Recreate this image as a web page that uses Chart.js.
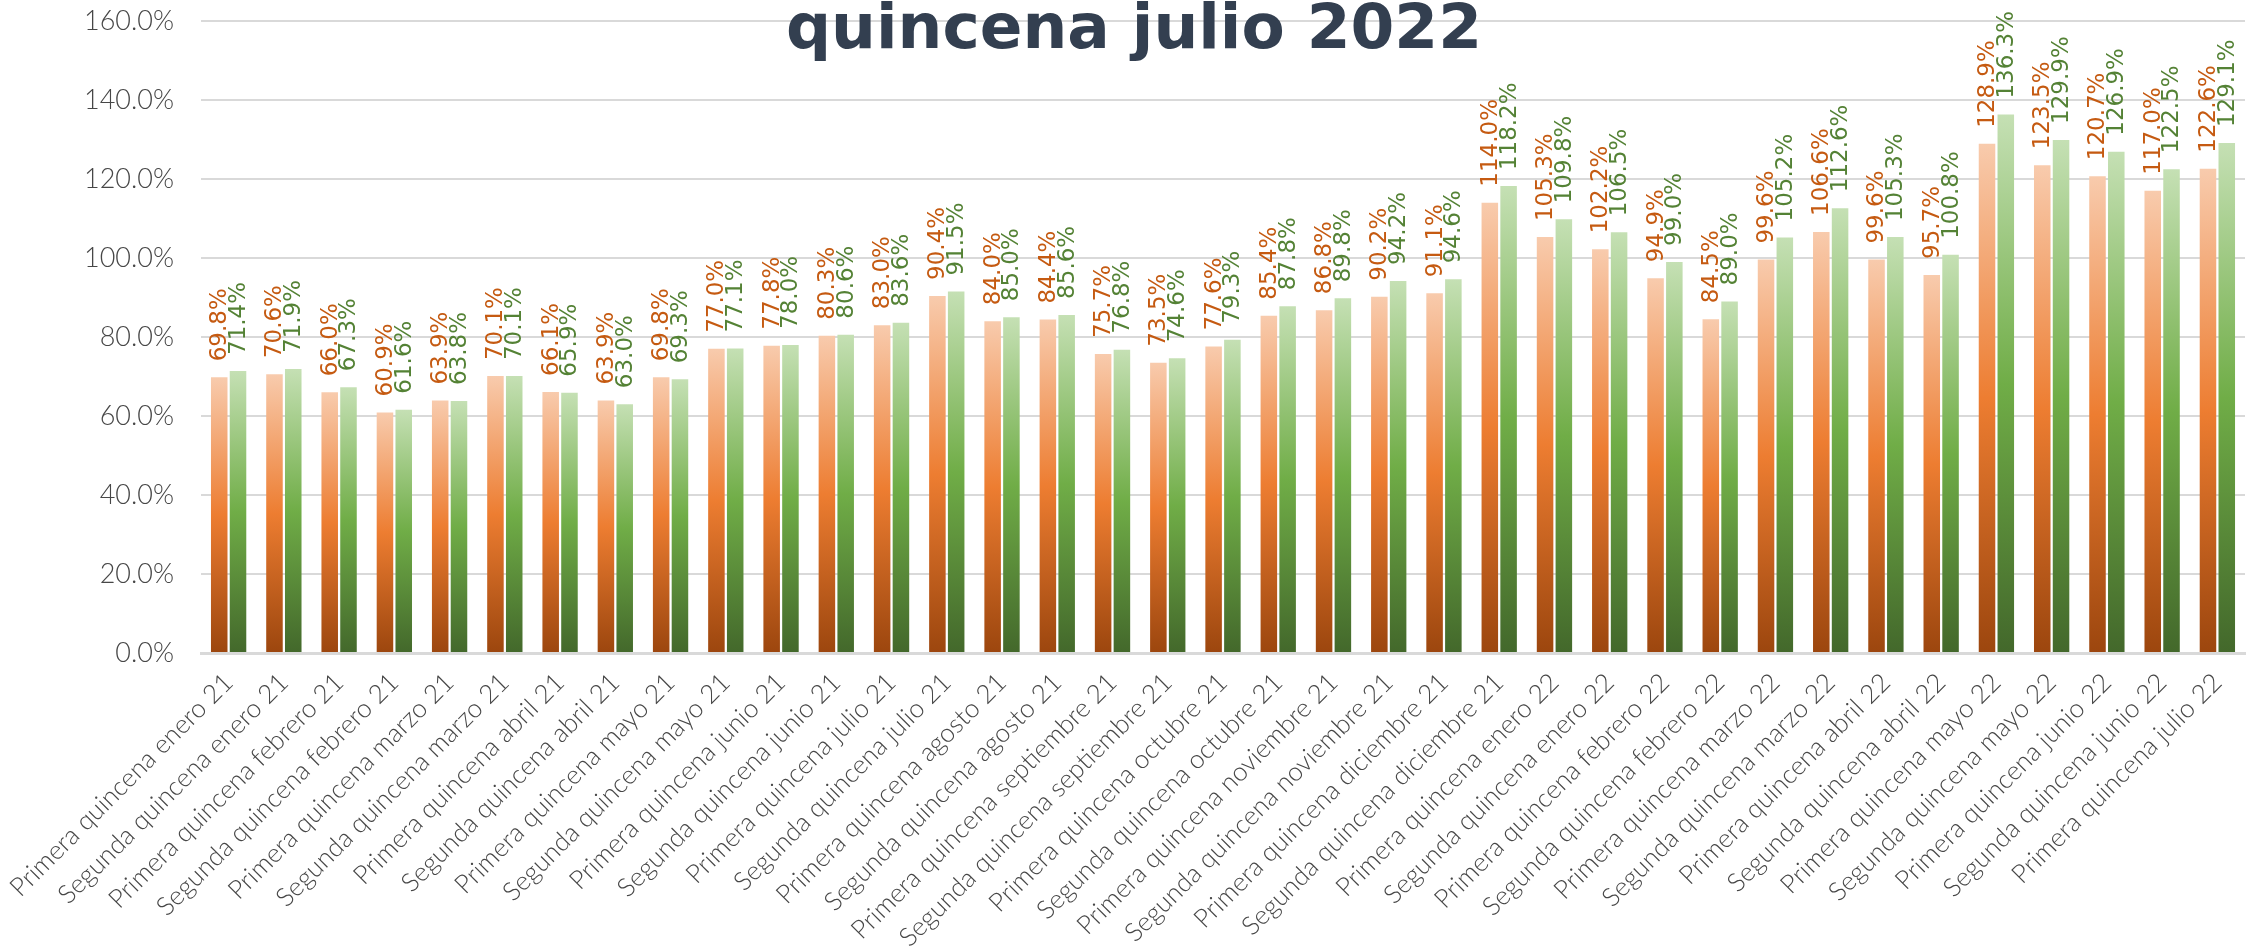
<!DOCTYPE html>
<html>
<head>
<meta charset="utf-8">
<style>
  html, body { margin: 0; padding: 0; background: #ffffff; }
  #wrap { width: 2252px; height: 947px; position: relative; }
</style>
<script src="https://cdn.jsdelivr.net/npm/chart.js@4.4.1/dist/chart.umd.min.js"></script>
</head>
<body>
<div id="wrap"><canvas id="c" width="2252" height="947"></canvas></div>
<script>
const titleText = 'quincena julio 2022';

const categories = [
  'Primera quincena enero 21', 'Segunda quincena enero 21',
  'Primera quincena febrero 21', 'Segunda quincena febrero 21',
  'Primera quincena marzo 21', 'Segunda quincena marzo 21',
  'Primera quincena abril 21', 'Segunda quincena abril 21',
  'Primera quincena mayo 21', 'Segunda quincena mayo 21',
  'Primera quincena junio 21', 'Segunda quincena junio 21',
  'Primera quincena julio 21', 'Segunda quincena julio 21',
  'Primera quincena agosto 21', 'Segunda quincena agosto 21',
  'Primera quincena septiembre 21', 'Segunda quincena septiembre 21',
  'Primera quincena octubre 21', 'Segunda quincena octubre 21',
  'Primera quincena noviembre 21', 'Segunda quincena noviembre 21',
  'Primera quincena diciembre 21', 'Segunda quincena diciembre 21',
  'Primera quincena enero 22', 'Segunda quincena enero 22',
  'Primera quincena febrero 22', 'Segunda quincena febrero 22',
  'Primera quincena marzo 22', 'Segunda quincena marzo 22',
  'Primera quincena abril 22', 'Segunda quincena abril 22',
  'Primera quincena mayo 22', 'Segunda quincena mayo 22',
  'Primera quincena junio 22', 'Segunda quincena junio 22',
  'Primera quincena julio 22'
];

const seriesOrange = [
  69.8, 70.6, 66.0, 60.9, 63.9, 70.1, 66.1, 63.9, 69.8, 77.0,
  77.8, 80.3, 83.0, 90.4, 84.0, 84.4, 75.7, 73.5, 77.6, 85.4,
  86.8, 90.2, 91.1, 114.0, 105.3, 102.2, 94.9, 84.5, 99.6, 106.6,
  99.6, 95.7, 128.9, 123.5, 120.7, 117.0, 122.6
];

const seriesGreen = [
  71.4, 71.9, 67.3, 61.6, 63.8, 70.1, 65.9, 63.0, 69.3, 77.1,
  78.0, 80.6, 83.6, 91.5, 85.0, 85.6, 76.8, 74.6, 79.3, 87.8,
  89.8, 94.2, 94.6, 118.2, 109.8, 106.5, 99.0, 89.0, 105.2, 112.6,
  105.3, 100.8, 136.3, 129.9, 126.9, 122.5, 129.1
];

const yTicks = [0, 20, 40, 60, 80, 100, 120, 140, 160];

const orangeStops = ['#F8CBAD', '#ED7D31', '#9C460E'];
const greenStops = ['#C5E0B4', '#70AD47', '#43682B'];

function barGradient(stops) {
  return function (ctx) {
    const chart = ctx.chart;
    const y = chart.scales && chart.scales.y;
    if (!y || ctx.type !== 'data') return stops[1];
    const v = ctx.raw;
    const top = y.getPixelForValue(v);
    const bottom = y.getPixelForValue(0);
    if (!isFinite(top) || !isFinite(bottom) || top === bottom) return stops[1];
    const g = chart.ctx.createLinearGradient(0, top, 0, bottom);
    g.addColorStop(0, stops[0]);
    g.addColorStop(0.5, stops[1]);
    g.addColorStop(1, stops[2]);
    return g;
  };
}

const valueLabels = {
  id: 'valueLabels',
  afterDatasetsDraw(chart) {
    const ctx = chart.ctx;
    const colors = ['#C55A11', '#548235'];
    ctx.save();
    ctx.font = '23px "DejaVu Sans"';
    ctx.textAlign = 'left';
    ctx.textBaseline = 'middle';
    chart.data.datasets.forEach((ds, di) => {
      const meta = chart.getDatasetMeta(di);
      ctx.fillStyle = colors[di];
      meta.data.forEach((el, i) => {
        const txt = ds.data[i].toFixed(1) + '%';
        ctx.save();
        ctx.translate(el.x, el.y - 16);
        ctx.rotate(-Math.PI / 2);
        ctx.fillText(txt, 0, 1);
        ctx.restore();
      });
    });
    ctx.restore();
  }
};

const titleDraw = {
  id: 'titleDraw',
  afterDraw(chart) {
    const ctx = chart.ctx;
    ctx.save();
    ctx.font = 'bold 63px "DejaVu Sans"';
    ctx.fillStyle = '#333F50';
    ctx.textAlign = 'center';
    ctx.textBaseline = 'alphabetic';
    ctx.fillText(titleText, 1134, 48);
    ctx.restore();
  }
};

new Chart(document.getElementById('c'), {
  type: 'bar',
  data: {
    labels: categories,
    datasets: [
      {
        label: 'Serie 1',
        data: seriesOrange,
        backgroundColor: barGradient(orangeStops),
        borderWidth: 0,
        barPercentage: 0.88,
        categoryPercentage: 0.68
      },
      {
        label: 'Serie 2',
        data: seriesGreen,
        backgroundColor: barGradient(greenStops),
        borderWidth: 0,
        barPercentage: 0.88,
        categoryPercentage: 0.68
      }
    ]
  },
  options: {
    responsive: false,
    devicePixelRatio: 1,
    animation: false,
    layout: { padding: { top: 21, right: 7, left: 0, bottom: 0 } },
    plugins: {
      legend: { display: false },
      title: { display: false },
      tooltip: { enabled: false }
    },
    scales: {
      x: {
        z: 1,
        grid: { display: false, drawTicks: false },
        border: { display: true, color: '#D9D9D9', width: 3 },
        ticks: {
          autoSkip: false,
          maxRotation: 45,
          minRotation: 45,
          padding: 14,
          color: '#474747',
          font: { family: 'Lato', size: 26, weight: '300' }
        },
        afterFit(scale) {
          scale.height = 947 - 653;
          scale.paddingLeft = 0;
          scale.paddingRight = 0;
        }
      },
      y: {
        min: 0,
        max: 160,
        afterBuildTicks(scale) { scale.ticks = yTicks.map(v => ({ value: v })); },
        grid: { color: '#D9D9D9', lineWidth: 2, drawTicks: false },
        border: { display: false },
        ticks: {
          padding: 27,
          color: '#474747',
          font: { family: 'Lato', size: 27, weight: '300' },
          callback: (v) => Number(v).toFixed(1) + '%'
        },
        afterFit(scale) {
          scale.width = 201;
          scale.paddingTop = 0;
          scale.paddingBottom = 0;
        }
      }
    }
  },
  plugins: [valueLabels, titleDraw]
});
</script>
</body>
</html>
